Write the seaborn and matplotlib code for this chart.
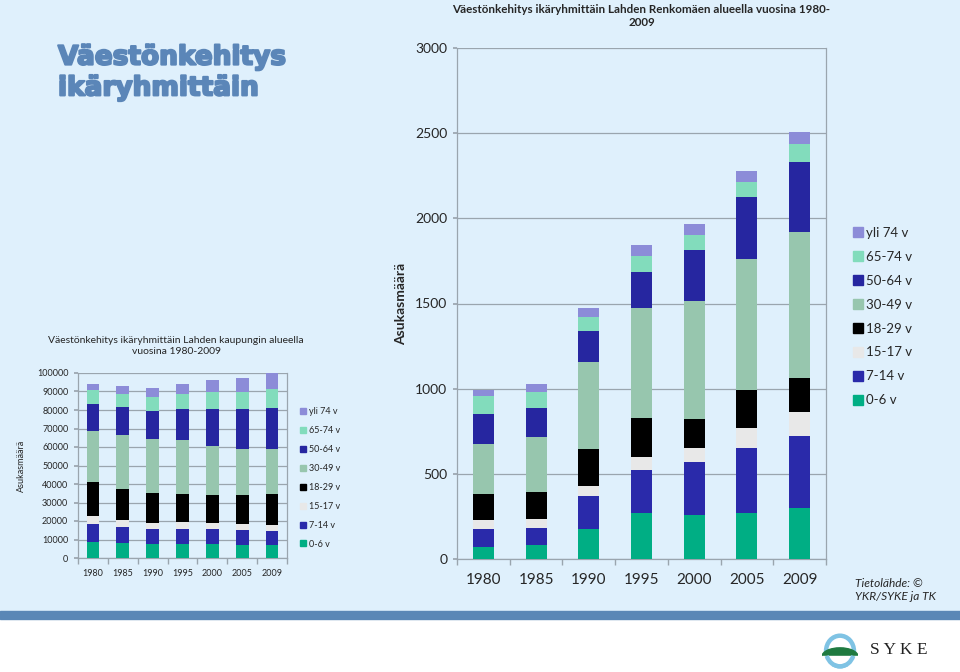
import matplotlib
matplotlib.use("Agg")
import matplotlib.pyplot as plt
import matplotlib.patches as mpatches
import matplotlib.patheffects as pe
from matplotlib.lines import Line2D
import pandas as pd
import seaborn as sns

sns.set_theme(style="white")
plt.rcParams["font.family"] = ["Lato", "DejaVu Sans"]

# data
years = ["1980", "1985", "1990", "1995", "2000", "2005", "2009"]
groups = ["0-6 v", "7-14 v", "15-17 v", "18-29 v", "30-49 v", "50-64 v", "65-74 v", "yli 74 v"]
colors = ["#00AE84", "#2A2AAA", "#E8E8E8", "#000000", "#97C6AE", "#2626A0", "#82DCBC", "#8C8CD8"]

# Lahti (whole city)
lahti_0_6 = [8500, 8100, 7400, 7600, 7400, 6900, 6900]
lahti_7_14 = [9800, 8700, 8500, 8300, 8100, 8100, 7600]
lahti_15_17 = [4300, 4000, 3100, 3300, 3500, 3300, 3200]
lahti_18_29 = [18400, 16600, 15900, 15300, 15000, 15900, 17000]
lahti_30_49 = [27700, 29300, 29500, 29500, 26600, 24600, 24100]
lahti_50_64 = [14700, 14700, 14800, 16300, 20200, 21700, 22200]
lahti_65_74 = [7200, 7400, 7600, 8300, 8700, 9400, 10300]
lahti_yli_74 = [3400, 4000, 4900, 5600, 6500, 7400, 8700]

# Renkomäki area
renko_0_6 = [68, 80, 174, 270, 256, 271, 301]
renko_7_14 = [106, 100, 197, 255, 314, 381, 420]
renko_15_17 = [55, 54, 59, 71, 84, 116, 140]
renko_18_29 = [150, 159, 213, 234, 168, 226, 203]
renko_30_49 = [299, 324, 513, 641, 690, 768, 854]
renko_50_64 = [174, 170, 180, 211, 300, 363, 414]
renko_65_74 = [107, 92, 84, 97, 88, 88, 106]
renko_yli_74 = [33, 50, 55, 67, 65, 66, 66]

lahti = [lahti_0_6, lahti_7_14, lahti_15_17, lahti_18_29,
         lahti_30_49, lahti_50_64, lahti_65_74, lahti_yli_74]
renko = [renko_0_6, renko_7_14, renko_15_17, renko_18_29,
         renko_30_49, renko_50_64, renko_65_74, renko_yli_74]

BG = "#DFF0FC"
GRID = "#9AA5AE"


def stacked_bars(ax, series, width, ymax, ystep, tick_size, legend_size, legend_pos, legend_gap):
    df = pd.DataFrame(dict(zip(groups, series)), index=years)
    cum = df.cumsum(axis=1)
    # draw from the top group down, each cumulative bar covering the previous
    for g, c in zip(groups[::-1], colors[::-1]):
        sns.barplot(x=cum.index, y=cum[g], color=c, saturation=1, width=width,
                    linewidth=0, ax=ax, zorder=3)
    ax.set_facecolor(BG)
    ax.set_xlim(-0.5, len(years) - 0.5)
    ax.set_ylim(0, ymax)
    ax.set_yticks(range(0, ymax + 1, ystep))
    ax.yaxis.grid(True, color=GRID, linewidth=0.9, zorder=0)
    ax.set_axisbelow(True)
    for s in ["left", "bottom", "right"]:
        ax.spines[s].set_visible(True)
        ax.spines[s].set_color(GRID)
        ax.spines[s].set_linewidth(0.9)
    ax.spines["top"].set_visible(False)
    ax.tick_params(axis="x", which="major", length=0, labelsize=tick_size, pad=8)
    ax.set_xticks([i - 0.5 for i in range(len(years) + 1)], minor=True)
    ax.tick_params(axis="x", which="minor", length=4, color=GRID, direction="out", bottom=True)
    ax.tick_params(axis="y", length=3, color=GRID, labelsize=tick_size, left=True, pad=4)
    ax.set_xlabel("")
    handles = [Line2D([], [], marker="s", linestyle="", color=c, markersize=legend_size * 0.75,
                      label=g) for g, c in zip(groups[::-1], colors[::-1])]
    ax.legend(handles=handles, loc="upper left", bbox_to_anchor=legend_pos, frameon=False,
              fontsize=legend_size, handletextpad=0.1, labelspacing=legend_gap,
              handlelength=1.0, borderaxespad=0)


fig = plt.figure(figsize=(9.6, 6.72), dpi=100)
fig.patch.set_facecolor("white")
# slide background, stripe
fig.patches.append(mpatches.Rectangle((0, 1 - 611 / 672), 1, 611 / 672, transform=fig.transFigure,
                                      color=BG, zorder=-10))
fig.patches.append(mpatches.Rectangle((0, 1 - 619 / 672), 1, 8 / 672, transform=fig.transFigure,
                                      color="#5A87B6", zorder=-10))

fig.text(58 / 960, 1 - 73 / 672, "Väestönkehitys\nikäryhmittäin", fontsize=19, fontweight="bold",
         color="#5B86B8", family=["DejaVu Sans"], va="center", ha="left", linespacing=1.24,
         path_effects=[pe.withStroke(linewidth=1.5, foreground="#5B86B8")])

# left chart: Lahti
ax1 = fig.add_axes([78 / 960, 1 - 558 / 672, 209 / 960, 185 / 672])
stacked_bars(ax1, lahti, 0.43, 100000, 10000, 6.5, 6.5, (1.04, 0.835), 1.1)
ax1.set_ylabel("Asukasmäärä", fontsize=6.5, labelpad=8)
ax1.set_title("Väestönkehitys ikäryhmittäin Lahden kaupungin alueella\nvuosina 1980-2009",
              fontsize=7.5, pad=14, x=0.47)

# right chart: Renkomäki
ax2 = fig.add_axes([457 / 960, 1 - 559 / 672, 369 / 960, 511 / 672])
stacked_bars(ax2, renko, 0.4, 3000, 500, 10, 9.5, (1.055, 0.66), 0.9)
ax2.tick_params(axis="x", which="major", labelsize=11, pad=10)
ax2.set_ylabel("Asukasmäärä", fontsize=10, fontweight="bold", labelpad=6)
ax2.set_title("Väestönkehitys ikäryhmittäin Lahden Renkomäen alueella vuosina 1980-\n2009",
              fontsize=8.4, fontweight="bold", pad=16)

fig.text(855 / 960, 1 - 590 / 672, "Tietolähde: ©\nYKR/SYKE ja TK", fontsize=8.6, style="italic",
         va="center", ha="left", linespacing=1.25)

# SYKE logo
logo = fig.add_axes([822 / 960, 1 - 669 / 672, 36 / 960, 36 / 672])
logo.set_xlim(-1, 1)
logo.set_ylim(-1, 1)
logo.axis("off")
logo.add_patch(mpatches.Ellipse((0, 0), 1.55, 1.7, fill=False, lw=3.2, ec="#7FC3E4"))
logo.add_patch(mpatches.Ellipse((0, -0.3), 2.0, 0.95, color="#1F7A40"))
logo.add_patch(mpatches.Rectangle((-1.0, -0.78), 2.0, 0.48, color="white"))
logo.add_patch(mpatches.Arc((0, 0), 1.55, 1.7, theta1=200, theta2=340, lw=3.2, color="#7FC3E4"))
fig.text(870 / 960, 1 - 650 / 672, "S Y K E", fontsize=12.5, family=["Liberation Serif"],
         va="center", ha="left", color="#222222")

fig.savefig("out.png", dpi=100, facecolor=fig.get_facecolor())
